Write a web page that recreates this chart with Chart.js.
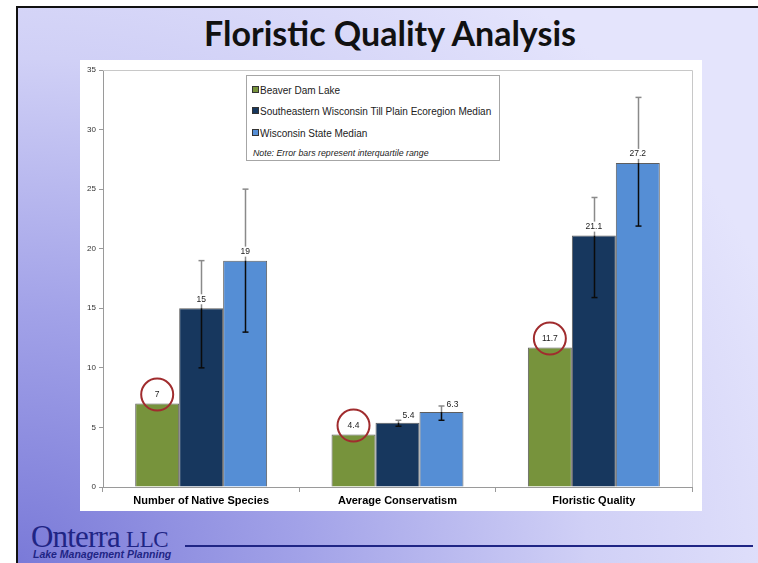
<!DOCTYPE html>
<html>
<head>
<meta charset="utf-8">
<script src="https://cdn.jsdelivr.net/npm/chart.js@4/dist/chart.umd.min.js"></script>
<style>
  html, body { margin: 0; padding: 0; }
  body { width: 758px; height: 563px; overflow: hidden; position: relative; background: #fff; font-family: "Liberation Sans", Arial, sans-serif; }
  .slide {
    position: absolute; left: 16px; top: 6px; right: 0; bottom: 0;
    border-left: 2px solid #111; border-top: 2px solid #111;
    background: radial-gradient(ellipse 110% 130% at 0% 100%, #7a7ad8 0%, #a2a2e8 35%, #d0d0f6 70%, #e4e4fc 100%);
  }
  .title { position: absolute; left: 22px; width: 736px; top: 12px; text-align: center; font: bold 34px Lato, "Open Sans", sans-serif; color: #111; }
  .chart-box { position: absolute; left: 80px; top: 60px; width: 622px; height: 451px; background: #fff; }
  .legend { position: absolute; left: 246px; top: 75px; width: 252px; height: 84px; border: 1px solid #a6a6a6; background: #fff; font-size: 10px; color: #222; }
  .legend .item { position: absolute; left: 5px; white-space: nowrap; }
  .legend .swatch { display: inline-block; width: 5px; height: 5px; border: 1px solid #333; margin-right: 1px; vertical-align: 1px; }
  .legend .note { position: absolute; left: 6px; top: 72px; font-size: 8.8px; font-style: italic; white-space: nowrap; }
  .logo { position: absolute; left: 31px; top: 521px; font-family: "Liberation Serif", "DejaVu Serif", serif; color: #1f2585; font-size: 31px; letter-spacing: -0.8px; line-height: 1; }
  .logo .llc { font-size: 23px; margin-left: 6px; letter-spacing: -0.5px; }
  .tagline { position: absolute; left: 33px; top: 548px; font: italic bold 10.5px "Liberation Sans", Arial, sans-serif; color: #1f2585; }
  .rule { position: absolute; left: 185px; top: 545px; width: 568px; height: 2px; background: #1f2585; }
</style>
</head>
<body>
<div class="slide"></div>
<div class="title">Floristic Quality Analysis</div>
<div class="chart-box"><canvas id="chart" width="622" height="451"></canvas></div>
<div class="legend" id="legend"></div>
<div class="logo">Onterra<span class="llc">LLC</span></div>
<div class="tagline">Lake Management Planning</div>
<div class="rule"></div>
<script>
const categories = ['Number of Native Species', 'Average Conservatism', 'Floristic Quality'];
const seriesNames = ['Beaver Dam Lake', 'Southeastern Wisconsin Till Plain Ecoregion Median', 'Wisconsin State Median'];
const seriesColors = ['#77933C', '#17375E', '#558ED5'];
const beaverDam = [7, 4.4, 11.7];
const ecoregionMedian = [15, 5.4, 21.1];
const stateMedian = [19, 6.3, 27.2];
// interquartile ranges (error bars)
const ecoregionLow = [10, 5.1, 15.9];
const ecoregionHigh = [19, 5.6, 24.3];
const stateLow = [13, 5.6, 21.9];
const stateHigh = [25, 6.8, 32.7];
const yMin = 0, yMax = 35, yStep = 5;
const noteText = 'Note: Error bars represent interquartile range';

const errorRanges = [null, { lo: ecoregionLow, hi: ecoregionHigh }, { lo: stateLow, hi: stateHigh }];

// HTML legend
const legend = document.getElementById('legend');
const rowTops = [9, 30, 52];
seriesNames.forEach((name, i) => {
  const d = document.createElement('div');
  d.className = 'item';
  d.style.top = rowTops[i] + 'px';
  d.innerHTML = `<span class="swatch" style="background:${seriesColors[i]}"></span>${name}`;
  legend.appendChild(d);
});
const note = document.createElement('div');
note.className = 'note';
note.textContent = noteText;
legend.appendChild(note);

const extras = {
  id: 'extras',
  beforeDatasetsDraw(chart) {
    const { ctx, chartArea: a } = chart;
    ctx.save();
    ctx.strokeStyle = '#c8c8c8';
    ctx.lineWidth = 1;
    ctx.beginPath();
    ctx.moveTo(a.left, a.top + 0.5);
    ctx.lineTo(a.right + 0.5, a.top + 0.5);
    ctx.lineTo(a.right + 0.5, a.bottom);
    ctx.stroke();
    ctx.restore();
  },
  afterDatasetsDraw(chart) {
    const { ctx } = chart;
    const y = chart.scales.y;
    ctx.save();
    // error bars
    errorRanges.forEach((r, di) => {
      if (!r) return;
      chart.getDatasetMeta(di).data.forEach((bar, i) => {
        const x = Math.round(bar.x) + 0.5;
        const yHi = y.getPixelForValue(r.hi[i]);
        const yLo = y.getPixelForValue(r.lo[i]);
        const top = bar.y;
        ctx.lineWidth = 1.5;
        if (yHi < top) {
          ctx.strokeStyle = '#8a8a8a';
          ctx.beginPath(); ctx.moveTo(x, yHi); ctx.lineTo(x, Math.min(top, yLo)); ctx.stroke();
          ctx.beginPath(); ctx.moveTo(x - 3, yHi); ctx.lineTo(x + 3, yHi); ctx.stroke();
        }
        ctx.strokeStyle = '#0b0b0b';
        ctx.beginPath(); ctx.moveTo(x, Math.max(top, yHi)); ctx.lineTo(x, yLo); ctx.stroke();
        ctx.beginPath(); ctx.moveTo(x - 3, yLo); ctx.lineTo(x + 3, yLo); ctx.stroke();
        if (yHi >= top) { ctx.beginPath(); ctx.moveTo(x - 3, yHi); ctx.lineTo(x + 3, yHi); ctx.stroke(); }
      });
    });
    // value labels
    ctx.font = '8.5px "Liberation Sans", Arial, sans-serif';
    ctx.textAlign = 'center';
    ctx.textBaseline = 'middle';
    chart.data.datasets.forEach((ds, di) => {
      chart.getDatasetMeta(di).data.forEach((bar, i) => {
        const txt = String(ds.data[i]);
        let lx = bar.x, ly = bar.y - 9;
        const r = errorRanges[di];
        if (r) {
          const yHi = y.getPixelForValue(r.hi[i]);
          if (bar.y - yHi < 12) { lx = bar.x + 11; ly = bar.y - 7; }
        }
        const w = ctx.measureText(txt).width;
        ctx.fillStyle = '#fff';
        ctx.fillRect(lx - w / 2 - 1, ly - 5, w + 2, 10);
        ctx.fillStyle = '#222';
        ctx.fillText(txt, lx, ly);
        if (di === 0) {
          ctx.strokeStyle = '#a02c2e';
          ctx.lineWidth = 2;
          ctx.beginPath(); ctx.arc(lx, ly, 16, 0, Math.PI * 2); ctx.stroke();
        }
      });
    });
    ctx.restore();
  }
};

const series = [beaverDam, ecoregionMedian, stateMedian];
new Chart(document.getElementById('chart'), {
  type: 'bar',
  data: {
    labels: categories,
    datasets: series.map((vals, i) => ({
      label: seriesNames[i],
      data: vals,
      backgroundColor: seriesColors[i],
      borderColor: 'rgba(40,40,40,0.75)',
      borderWidth: 1,
      categoryPercentage: 0.672,
      barPercentage: 1,
    }))
  },
  options: {
    responsive: false,
    animation: false,
    layout: { padding: { left: 0, right: 10, top: 10, bottom: 0 } },
    plugins: { legend: { display: false }, tooltip: { enabled: false } },
    scales: {
      x: {
        afterFit(s) { s.height = 24; },
        grid: { drawOnChartArea: false, tickLength: 5, color: '#9a9a9a' },
        border: { color: '#9a9a9a', width: 1 },
        ticks: { color: '#000', padding: 2, font: { family: '"Liberation Sans", Arial', size: 11, weight: 'bold' } }
      },
      y: {
        min: yMin, max: yMax,
        afterFit(s) { s.width = 23; },
        grid: { drawOnChartArea: false, tickLength: 4, color: '#9a9a9a' },
        border: { color: '#9a9a9a', width: 1 },
        ticks: { stepSize: yStep, color: '#333', padding: 3, font: { family: '"Liberation Sans", Arial', size: 8 } }
      }
    }
  },
  plugins: [extras]
});
</script>
</body>
</html>
